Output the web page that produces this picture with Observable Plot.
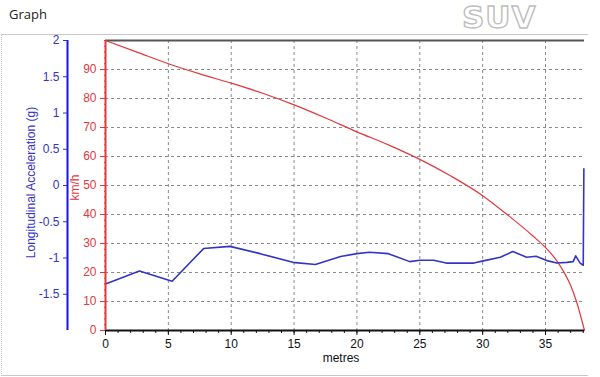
<!DOCTYPE html>
<html>
<head>
<meta charset="utf-8">
<script src="https://cdn.jsdelivr.net/npm/d3@7"></script>
<script src="https://cdn.jsdelivr.net/npm/@observablehq/plot@0.6"></script>
<style>
  html, body { margin: 0; padding: 0; background: #fff; }
  #wrap { position: relative; width: 600px; height: 377px; overflow: hidden; font-family: "Liberation Sans", Arial, sans-serif; }
  #title { position: absolute; left: 9px; top: 5px; font-family: "Open Sans", "Noto Sans", sans-serif; font-size: 13px; color: #222; }
  #logo { position: absolute; left: 462px; top: 2px; line-height: 30px; font-family: "DejaVu Sans", sans-serif; font-weight: bold; font-size: 31px; color: #fff; -webkit-text-stroke: 1.4px #bdbdbd; letter-spacing: 1px; }
  #panel { position: absolute; left: 1px; top: 34px; width: 586px; height: 340px; border-top: 1px solid #c8c8c8; border-left: 1px dotted #c8c8c8; border-bottom: 1px solid #c8c8c8; }
  #chart { position: absolute; left: 0; top: 34px; }
</style>
</head>
<body>
<div id="wrap">
  <div id="panel"></div>
  <div id="title">Graph</div>
  <div id="logo">SUV</div>
  <div id="chart"></div>
</div>
<script>
// Speed (km/h) vs distance (metres)
const speedDist = [0, 2.5, 5, 7.5, 10, 12.5, 15, 17.5, 20, 22.5, 25, 27.5, 30, 32, 34, 35, 36, 37, 37.5, 38.1];
const speedKmh  = [100, 96, 92, 88.5, 85.3, 81.8, 77.8, 73.3, 68.5, 64.0, 59.0, 53.2, 46.5, 39.8, 32.6, 28.6, 23.4, 15.5, 9.5, 0];

// Longitudinal acceleration (g) vs distance (metres)
const accelDist = [0, 2.7, 5.3, 7.8, 9.9, 12.3, 14.9, 16.7, 18.7, 20, 21, 22.5, 24.2, 25, 26.1, 27.1, 29.3, 30.05, 31.4, 32.4, 33.5, 34.25, 35.2, 35.9, 36.7, 37.2, 37.4, 37.75, 38.0, 38.05];
const accelG    = [-1.36, -1.18, -1.32, -0.87, -0.84, -0.94, -1.06, -1.09, -0.98, -0.94, -0.92, -0.94, -1.05, -1.03, -1.03, -1.07, -1.07, -1.04, -0.99, -0.91, -0.99, -0.975, -1.04, -1.07, -1.06, -1.05, -0.97, -1.07, -1.10, 0.23];

// Tick labels
const distTicks  = [0, 5, 10, 15, 20, 25, 30, 35];
const speedTicks = [0, 10, 20, 30, 40, 50, 60, 70, 80, 90];
const accelTicks = [-1.5, -1, -0.5, 0, 0.5, 1, 1.5, 2];

const RED = "#e2383c";
const BLUE = "#3434c4";
const AXBLUE = "#1414e6";

// acceleration scale [-2, 2] shares the km/h scale [0, 100]
const toKmh = g => (g + 2) * 25;
const fromKmh = v => v / 25 - 2;

const speedData = speedDist.map((d, i) => ({d, v: speedKmh[i]}));
const accelData = accelDist.map((d, i) => ({d, g: accelG[i]}));
const minorDist = d3.range(0, 39, 1);
const minorSpeed = d3.range(0, 101, 2);

const chart = Plot.plot({
  width: 600,
  height: 343,
  marginTop: 6,
  marginLeft: 105,
  marginRight: 16,
  marginBottom: 47,
  x: {domain: [0, 38.1]},
  y: {domain: [0, 100]},
  style: {fontFamily: "'Liberation Sans', Arial, sans-serif", fontSize: "12px", background: "transparent", overflow: "visible"},
  marks: [
    Plot.gridX(distTicks.slice(1), {stroke: "#8a8a8a", strokeOpacity: 1, strokeDasharray: "3,3"}),
    Plot.gridY(speedTicks.slice(1), {stroke: "#8a8a8a", strokeOpacity: 1, strokeDasharray: "3,3"}),
    Plot.ruleY([100], {stroke: "#555", strokeWidth: 2}),
    Plot.line(speedData, {x: "d", y: "v", stroke: RED, strokeWidth: 1.2, curve: "monotone-x"}),
    Plot.line(accelData, {x: "d", y: d => toKmh(d.g), stroke: BLUE, strokeWidth: 1.6}),
    Plot.ruleY([0], {stroke: "#111", strokeWidth: 2}),
    // red km/h axis
    Plot.ruleX([0], {stroke: RED, strokeWidth: 2}),
    Plot.axisY(minorSpeed, {tickSize: 2, dx: 1, tickFormat: () => "", color: RED, label: null}),
    Plot.axisY(speedTicks, {tickSize: 5, tickPadding: 4, color: RED, label: null}),
    Plot.text(["km/h"], {frameAnchor: "left", textAnchor: "middle", rotate: -90, dx: -30, dy: 2, fill: RED, fontSize: 12}),
    // blue acceleration axis
    Plot.ruleX([0], {dx: -38, stroke: AXBLUE, strokeWidth: 2}),
    Plot.axisY(accelTicks.map(toKmh), {dx: -38, tickSize: 4, tickPadding: 4, tickFormat: v => String(fromKmh(v)), color: BLUE, label: null}),
    Plot.text(["Longitudinal Acceleration (g)"], {frameAnchor: "left", textAnchor: "middle", rotate: -90, dx: -74, dy: -3, fill: BLUE, fontSize: 12}),
    // distance axis
    Plot.axisX(minorDist, {tickSize: 3, tickFormat: () => "", color: "#111", label: null}),
    Plot.axisX(distTicks, {tickSize: 5, tickPadding: 4, color: "#111", label: null}),
    Plot.text(["metres"], {frameAnchor: "bottom", dy: 31, dx: -4, fill: "#111", fontSize: 12})
  ]
});
document.getElementById("chart").appendChild(chart);
</script>
</body>
</html>
